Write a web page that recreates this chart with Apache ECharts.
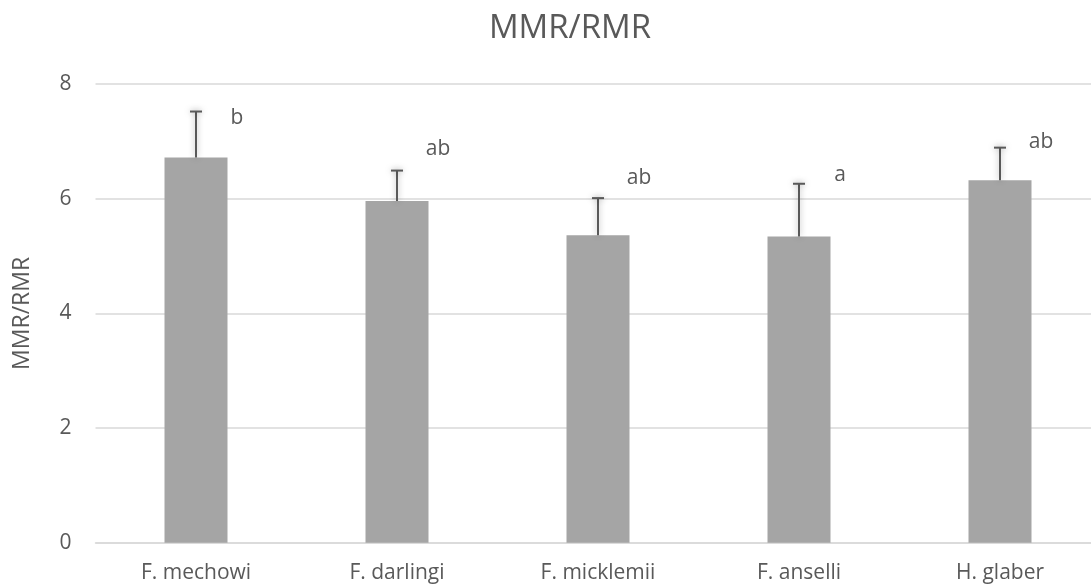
<!DOCTYPE html>
<html>
<head>
<meta charset="utf-8">
<script src="https://cdn.jsdelivr.net/npm/echarts@6/dist/echarts.min.js"></script>
<style>
html,body{margin:0;padding:0;background:#fff;}
#chart{width:1091px;height:586px;}
</style>
</head>
<body>
<div id="chart"></div>
<script>
var categories = ['F. mechowi', 'F. darlingi', 'F. micklemii', 'F. anselli', 'H. glaber'];
var means = [6.72, 5.96, 5.36, 5.34, 6.32];
var errorTop = [7.52, 6.49, 6.01, 6.26, 6.89];
var letters = ['b', 'ab', 'ab', 'a', 'ab'];
var letterY = [7.40, 6.86, 6.36, 6.41, 6.98];
var yTicks = [0, 2, 4, 6, 8];

var FONT = '"Open Sans", sans-serif';
var TXT = '#595959';

var chart = echarts.init(document.getElementById('chart'));

var errData = categories.map(function (c, i) { return [i, means[i], errorTop[i]]; });
var letterData = categories.map(function (c, i) { return [i, letterY[i], letters[i]]; });

chart.setOption({
  animation: false,
  backgroundColor: '#fff',
  title: {
    text: 'MMR/RMR',
    left: 565,
    textAlign: 'center',
    top: 7,
    textStyle: { fontFamily: FONT, fontSize: 33, fontWeight: 'normal', color: TXT }
  },
  grid: { left: 95.5, top: 84, width: 1005, height: 458.7, outerBoundsMode: 'none', containLabel: false },
  xAxis: {
    type: 'category',
    data: categories,
    axisLine: { lineStyle: { color: '#D9D9D9', width: 1.5 } },
    axisTick: { show: false },
    axisLabel: { fontFamily: FONT, fontSize: 21, color: TXT, margin: 20 }
  },
  yAxis: {
    type: 'value',
    min: yTicks[0],
    max: yTicks[yTicks.length - 1],
    interval: 2,
    name: 'MMR/RMR',
    nameLocation: 'middle',
    nameGap: 62,
    nameTextStyle: { fontFamily: FONT, fontSize: 23, color: TXT },
    axisLine: { show: false },
    axisTick: { show: false },
    splitLine: { lineStyle: { color: '#D9D9D9', width: 1.5 } },
    axisLabel: { fontFamily: FONT, fontSize: 21, color: TXT, margin: 24 }
  },
  series: [
    {
      type: 'bar',
      data: means,
      barWidth: 63,
      itemStyle: { color: '#A5A5A5' },
      z: 2
    },
    {
      type: 'custom',
      data: errData,
      z: 3,
      renderItem: function (params, api) {
        var base = api.coord([api.value(0), api.value(1)]);
        var top = api.coord([api.value(0), api.value(2)]);
        var half = 6;
        var style = { stroke: '#595959', lineWidth: 2, shadowBlur: 6, shadowColor: 'rgba(0,0,0,0.35)' };
        return {
          type: 'group',
          children: [
            { type: 'line', shape: { x1: base[0], y1: base[1], x2: top[0], y2: top[1] }, style: style },
            { type: 'line', shape: { x1: top[0] - half, y1: top[1], x2: top[0] + half, y2: top[1] }, style: style }
          ]
        };
      }
    },
    {
      type: 'custom',
      data: letterData,
      z: 4,
      renderItem: function (params, api) {
        var p = api.coord([api.value(0), api.value(1)]);
        return {
          type: 'text',
          x: p[0] + 41,
          y: p[1],
          style: {
            text: letters[params.dataIndex],
            fontFamily: FONT,
            fontSize: 21,
            fill: TXT,
            align: 'center',
            verticalAlign: 'middle'
          }
        };
      }
    }
  ]
});
</script>
</body>
</html>
